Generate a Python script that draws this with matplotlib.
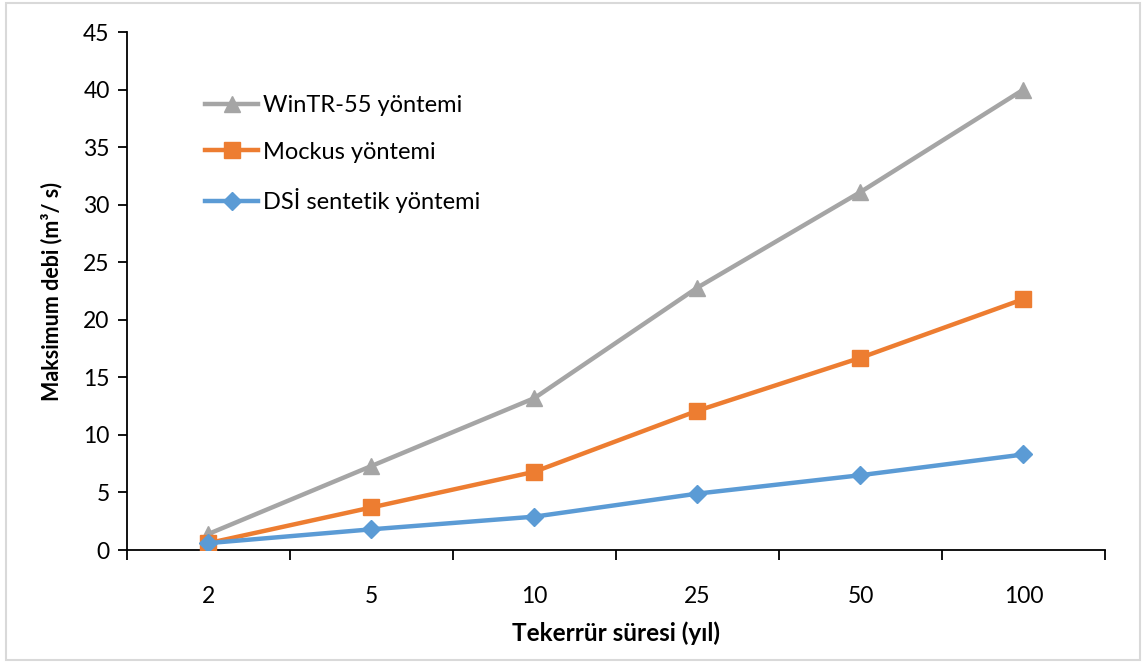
import matplotlib
matplotlib.use("Agg")
import matplotlib.pyplot as plt
from matplotlib.patches import Rectangle

plt.rcParams['font.family'] = ['Lato', 'DejaVu Sans']

categories = ["2", "5", "10", "25", "50", "100"]
wintr = [1.4, 7.3, 13.2, 22.8, 31.1, 40.0]
mockus = [0.6, 3.7, 6.8, 12.1, 16.7, 21.8]
dsi = [0.6, 1.8, 2.9, 4.9, 6.5, 8.3]
yticks = [0, 5, 10, 15, 20, 25, 30, 35, 40, 45]

fig = plt.figure(figsize=(11.46, 6.63), dpi=100)
ax = fig.add_axes([0.1108, 0.1704, 0.8534, 0.7813])

x = list(range(len(categories)))
ax.plot(x, wintr, color='#A5A5A5', lw=3.2, marker='^', ms=12, label='WinTR-55 yöntemi', zorder=3)
ax.plot(x, mockus, color='#ED7D31', lw=3.2, marker='s', ms=11, label='Mockus yöntemi', zorder=4)
ax.plot(x, dsi, color='#5B9BD5', lw=3.2, marker='D', ms=9, label='DSİ sentetik yöntemi', zorder=5)

ax.set_xlim(-0.5, 5.5)
ax.set_ylim(0, 45)
ax.set_yticks(yticks)
ax.set_yticklabels([str(v) for v in yticks], fontsize=16.5)
ax.set_xticks(x)
ax.set_xticklabels(categories, fontsize=16.5)
ax.set_xticks([i - 0.5 for i in range(len(categories) + 1)], minor=True)
ax.tick_params(axis='x', which='major', length=0, pad=26)
ax.tick_params(axis='x', which='minor', length=7, width=1.3, direction='out')
ax.tick_params(axis='y', length=6.5, width=1.3, direction='out', pad=6)
for s in ['top', 'right']:
    ax.spines[s].set_visible(False)
for s in ['left', 'bottom']:
    ax.spines[s].set_linewidth(1.3)
    ax.spines[s].set_color('black')

ax.set_ylabel('Maksimum debi (m³/ s)', fontsize=15.5, fontweight='bold', labelpad=15)
ax.set_xlabel('Tekerrür süresi (yıl)', fontsize=17.5, fontweight='bold', labelpad=10)

ax.legend(loc='upper left', bbox_to_anchor=(0.08, 0.878), frameon=False, fontsize=17,
          handlelength=2.25, handletextpad=0.2, labelspacing=1.08, borderaxespad=0,
          borderpad=0)

fig.patches.append(Rectangle((0.005, 0.005), 0.99, 0.99, transform=fig.transFigure,
                             fill=False, edgecolor='#D9D9D9', lw=1.5))

fig.savefig('out.png', dpi=100)
